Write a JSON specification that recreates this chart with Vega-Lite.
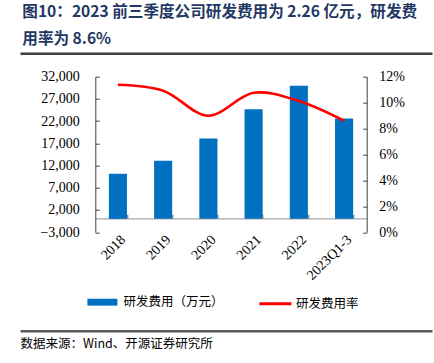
{
  "$schema": "https://vega.github.io/schema/vega-lite/v6.json",
  "width": 271.4,
  "height": 155.5,
  "autosize": {"type": "none"},
  "padding": {"left": 95.3, "top": 76.7, "right": 67.3, "bottom": 130.8},
  "background": "white",
  "title": {
    "text": ["图10：2023 前三季度公司研发费用为 2.26 亿元，研发费", "用率为 8.6%"],
    "anchor": "start",
    "frame": "group",
    "dx": -73,
    "offset": 4,
    "font": "Noto Sans CJK SC",
    "fontSize": 15.6,
    "fontWeight": "bold",
    "color": "#1F3864",
    "lineHeight": 27
  },
  "data": {
    "values": [
      {"year": "2018", "rd": 10150, "rate": 0.1138},
      {"year": "2019", "rd": 13060, "rate": 0.1092},
      {"year": "2020", "rd": 18090, "rate": 0.0899},
      {"year": "2021", "rd": 24690, "rate": 0.1076},
      {"year": "2022", "rd": 29950, "rate": 0.1012},
      {"year": "2023Q1-3", "rd": 22600, "rate": 0.086}
    ]
  },
  "layer": [
    {
      "mark": {"type": "bar", "color": "#0070C0"},
      "encoding": {
        "x": {
          "field": "year", "type": "nominal", "sort": null,
          "scale": {"paddingInner": 0.6, "paddingOuter": 0.3},
          "axis": {
            "orient": "bottom", "offset": -13.9, "title": null,
            "domainColor": "#A6A6A6", "domainWidth": 1.2,
            "tickBand": "extent", "tickSize": -4, "tickColor": "#595959",
            "labelAngle": -45, "labelPadding": 18
          }
        },
        "y": {
          "field": "rd", "type": "quantitative",
          "scale": {"domain": [-3000, 32000], "nice": false, "zero": false},
          "axis": {
            "title": null, "values": [-3000, 2000, 7000, 12000, 17000, 22000, 27000, 32000],
            "format": ",d", "tickSize": -4, "tickColor": "#404040",
            "domainColor": "#404040", "labelPadding": 20
          }
        },
        "color": {
          "datum": "研发费用（万元）",
          "scale": {"range": ["#0070C0"]},
          "legend": {
            "orient": "none", "legendX": -8.9, "legendY": 209.5, "title": null,
            "symbolType": "M-1,-0.23H1V0.23H-1Z", "symbolSize": 900,
            "labelOffset": 5, "padding": 0,
            "labelFont": "Noto Sans CJK SC", "labelFontSize": 12.5, "labelColor": "#000"
          }
        }
      }
    },
    {
      "mark": {"type": "line", "interpolate": "catmull-rom", "strokeWidth": 2.6},
      "encoding": {
        "x": {
          "field": "year", "type": "nominal", "sort": null,
          "scale": {"paddingInner": 0.6, "paddingOuter": 0.3},
          "axis": null
        },
        "y": {
          "field": "rate", "type": "quantitative",
          "scale": {"domain": [0, 0.12], "nice": false, "zero": false},
          "axis": {
            "orient": "right", "title": null, "format": ".0%",
            "values": [0, 0.02, 0.04, 0.06, 0.08, 0.1, 0.12],
            "tickSize": -4, "tickColor": "#404040", "domainColor": "#404040",
            "labelPadding": 16
          }
        },
        "stroke": {
          "datum": "研发费用率",
          "scale": {"range": ["#FF0000"]},
          "legend": {
            "orient": "none", "legendX": 162.6, "legendY": 209.5, "title": null,
            "symbolType": "stroke", "symbolSize": 1024, "symbolStrokeWidth": 3,
            "labelOffset": 3, "padding": 0,
            "labelFont": "Noto Sans CJK SC", "labelFontSize": 12.5, "labelColor": "#000"
          }
        }
      }
    },
    {
      "mark": {"type": "point", "opacity": 0},
      "encoding": {
        "x": {
          "field": "year", "type": "nominal", "sort": null,
          "scale": {"type": "point", "range": [-75.3, 336.7]},
          "axis": {
            "orient": "top", "offset": 23.4, "labels": false, "ticks": true,
            "tickColor": "#404040", "tickSize": 1,
            "domain": true, "title": null, "domainColor": "#404040", "domainWidth": 2.5
          }
        }
      }
    },
    {
      "mark": {"type": "point", "opacity": 0},
      "encoding": {
        "x": {
          "field": "year", "type": "nominal", "sort": null,
          "scale": {"type": "point", "range": [-75.3, 336.7]},
          "axis": {
            "orient": "bottom", "offset": 98.5, "labels": false, "ticks": true,
            "tickColor": "#595959", "tickSize": 1,
            "domain": true, "domainColor": "#595959", "domainWidth": 2.5,
            "title": "数据来源：Wind、开源证券研究所", "titleAnchor": "start",
            "titleFont": "Noto Sans CJK SC", "titleFontSize": 12.5, "titleFontWeight": "normal",
            "titleColor": "#000", "titlePadding": 5
          }
        }
      }
    }
  ],
  "resolve": {"scale": {"x": "independent", "y": "independent", "color": "independent", "stroke": "independent"}},
  "config": {
    "view": {"stroke": null},
    "axis": {"labelFont": "Liberation Serif", "labelFontSize": 14, "labelColor": "#000", "grid": false}
  }
}
